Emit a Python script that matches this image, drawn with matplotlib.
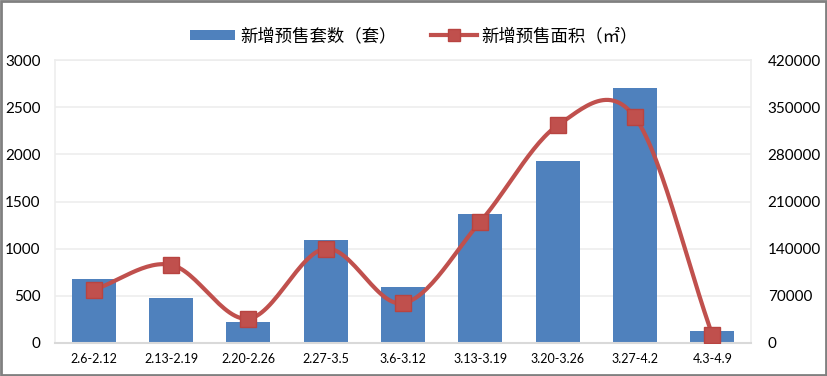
import numpy as np
import matplotlib
matplotlib.use("Agg")
import matplotlib.pyplot as plt
from matplotlib.lines import Line2D
from matplotlib.patches import Patch, Rectangle

plt.rcParams['font.family'] = ['Lato', 'Noto Sans CJK SC', 'DejaVu Sans']

categories = ["2.6-2.12", "2.13-2.19", "2.20-2.26", "2.27-3.5", "3.6-3.12",
              "3.13-3.19", "3.20-3.26", "3.27-4.2", "4.3-4.9"]
units = [680, 480, 220, 1090, 590, 1370, 1930, 2700, 130]
area = [79000, 116000, 36000, 140000, 59000, 180000, 323000, 335000, 12000]
left_ticks = [0, 500, 1000, 1500, 2000, 2500, 3000]
right_ticks = [0, 70000, 140000, 210000, 280000, 350000, 420000]

bar_color = "#4F81BD"
line_color = "#C0504D"

def catmull_rom(x, y, n=30):
    x = np.asarray(x, float); y = np.asarray(y, float)
    P = np.column_stack([x, y])
    P = np.vstack([P[0] - (P[1] - P[0]), P, P[-1] + (P[-1] - P[-2])])
    out = []
    for i in range(1, len(P) - 2):
        p0, p1, p2, p3 = P[i-1], P[i], P[i+1], P[i+2]
        t = np.linspace(0, 1, n)[:, None]
        seg = 0.5 * ((2*p1) + (-p0 + p2)*t + (2*p0 - 5*p1 + 4*p2 - p3)*t**2
                     + (-p0 + 3*p1 - 3*p2 + p3)*t**3)
        out.append(seg if i == len(P) - 3 else seg[:-1])
    S = np.vstack(out)
    return S[:, 0], S[:, 1]

fig = plt.figure(figsize=(8.28, 3.76), dpi=100)
ax = fig.add_axes([55/828, 1 - 343/376, 696/828, 283/376])
x = np.arange(len(categories))
ax.bar(x, units, width=0.57, color=bar_color, zorder=2)
ax.set_ylim(0, 3000)
ax.set_xlim(-0.5, len(categories) - 0.5)
ax.set_yticks(left_ticks)
ax.set_xticks(x)
ax.set_xticklabels(categories, fontsize=9)
ax.tick_params(axis='y', labelsize=11, length=0, pad=10.5)
ax.tick_params(axis='x', length=0, pad=7)
ax.grid(axis='y', color="#EDEDED", linewidth=1.2, zorder=0)
for s in ['left', 'right', 'top']:
    ax.spines[s].set_color("#EDEDED")
    ax.spines[s].set_linewidth(1.2)
ax.spines['bottom'].set_color("#D9D9D9")
ax.spines['bottom'].set_linewidth(1.5)
ax.set_axisbelow(True)

ax2 = ax.twinx()
ax2.set_ylim(0, 420000)
ax2.set_yticks(right_ticks)
ax2.tick_params(axis='y', labelsize=11, length=0, pad=12)
for s in ax2.spines.values():
    s.set_visible(False)
sx, sy = catmull_rom(x, area)
ax2.plot(sx, sy, color=line_color, linewidth=3, solid_capstyle='round', zorder=3)
ax2.plot(x, area, linestyle='none', marker='s', markersize=11.5,
         color=line_color, markeredgecolor="#B84441", zorder=4)

handles = [Patch(facecolor=bar_color, edgecolor='none'),
           Line2D([0], [0], color=line_color, linewidth=3, marker='s',
                  markersize=9, markeredgecolor="#B84441")]
labels = ["新增预售套数（套）", "新增预售面积（㎡）"]
fig.legend(handles, labels, loc='center', bbox_to_anchor=(0.5, 1 - 36/376),
           ncol=2, frameon=False, handlelength=2.6,
           handleheight=0.55, columnspacing=2.0, handletextpad=0.3,
           prop={'family': ['Noto Sans CJK SC', 'DejaVu Sans'], 'size': 12.5})

fig.patches.append(Rectangle((0.001, 0.002), 0.997, 0.995, transform=fig.transFigure,
                             fill=False, edgecolor="#808080", linewidth=2))
fig.savefig("out.png", dpi=100)
